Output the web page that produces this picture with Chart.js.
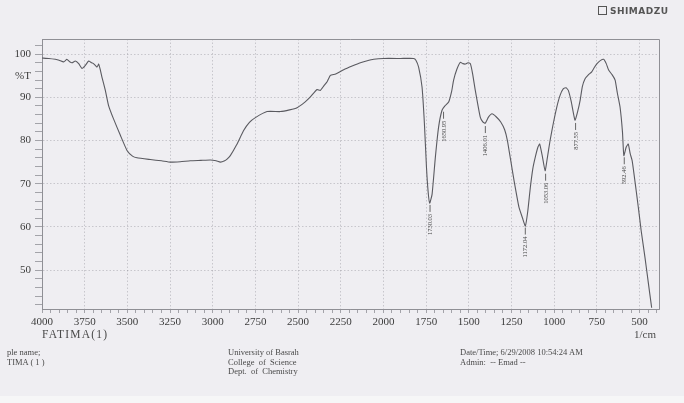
<!DOCTYPE html>
<html>
<head>
<meta charset="utf-8">
<script src="https://cdn.jsdelivr.net/npm/chart.js@4.4.1/dist/chart.umd.min.js"></script>
<style>
  body { margin: 0; background: #efeef2; }
  #wrap { position: relative; width: 684px; height: 403px; overflow: hidden; }
  #chart { position: absolute; left: 0; top: 0; }
  .txt { position: absolute; font-family: "Liberation Serif", "DejaVu Serif", serif; color: #4a4a4a; white-space: nowrap; }
  .small { font-size: 8.5px; line-height: 9.5px; }
  .strip { position: absolute; left: 0; top: 396px; width: 684px; height: 7px; background: #f6f6f7; }
</style>
</head>
<body>
<div id="wrap">
  <canvas id="chart" width="684" height="403"></canvas>
  <div class="strip"></div>
  <div class="txt" style="left:598px; top:6px; font-family:'DejaVu Sans',sans-serif; font-weight:bold; font-size:9px; letter-spacing:0.5px; color:#555;">
    <span style="display:inline-block; width:7px; height:7px; border:1px solid #555; margin-right:3px; vertical-align:-1px;"></span>SHIMADZU
  </div>
  <div class="txt" style="left:42px; top:328px; font-size:11.5px; letter-spacing:1.2px;">FATIMA(1)</div>
  <div class="txt" style="left:634px; top:328px; font-size:11px;">1/cm</div>
  <div class="txt small" style="left:7px; top:348px;">ple name;<br>TIMA ( 1 )</div>
  <div class="txt small" style="left:228px; top:348px;">University of Basrah<br>College&nbsp; of&nbsp; Science<br>Dept.&nbsp; of&nbsp; Chemistry</div>
  <div class="txt small" style="left:460px; top:348px;">Date/Time; 6/29/2008 10:54:24 AM<br>Admin:&nbsp; -- Emad --</div>
</div>
<script>
// IR spectrum (wavenumber in 1/cm, transmittance in %T)
const wavenumbers = [4000, 3960, 3922, 3900, 3873, 3854, 3840, 3824, 3805, 3785, 3766, 3746, 3727, 3710,
  3698, 3678, 3668, 3658, 3649, 3629, 3610, 3581, 3541, 3502, 3470, 3444, 3366, 3300, 3248, 3190, 3131,
  3070, 3014, 2980, 2955, 2930, 2916, 2897, 2860, 2819, 2785, 2750, 2682, 2604, 2550, 2506, 2460, 2428,
  2389, 2370, 2350, 2330, 2311, 2280, 2233, 2180, 2135, 2100, 2057, 2000, 1899, 1823, 1810, 1794, 1774,
  1760, 1748, 1738, 1729, 1715, 1696, 1677, 1657, 1640, 1618, 1600, 1589, 1570, 1550, 1535, 1521, 1505,
  1491, 1478, 1462, 1433, 1418, 1404, 1385, 1364, 1340, 1313, 1290, 1274, 1255, 1235, 1206, 1185, 1169,
  1155, 1140, 1125, 1111, 1095, 1085, 1070, 1053, 1040, 1024, 1005, 985, 965, 946, 930, 917, 900, 878,
  862, 848, 835, 819, 800, 780, 765, 749, 730, 710, 695, 681, 660, 643, 630, 614, 600, 592, 578, 566,
  555, 543, 520, 507, 490, 468, 450, 429];
const transmittance = [99.1, 99.0, 98.8, 98.6, 98.2, 98.8, 98.3, 98.0, 98.4, 97.8, 96.7, 97.4, 98.4, 98.0,
  97.8, 97.0, 97.7, 96.3, 94.7, 91.6, 88.1, 85.0, 81.2, 77.7, 76.4, 76.0, 75.6, 75.3, 75.0, 75.1, 75.3,
  75.4, 75.5, 75.3, 75.0, 75.3, 75.7, 76.5, 79.0, 82.3, 84.2, 85.3, 86.7, 86.7, 87.1, 87.6, 88.9, 90.1,
  91.8, 91.6, 92.6, 93.6, 95.1, 95.4, 96.4, 97.3, 98.0, 98.4, 98.8, 99.0, 99.0, 99.0, 98.6, 97.0, 92.4,
  83.9, 73.8, 68.0, 65.5, 67.6, 76.1, 83.1, 87.0, 88.0, 88.9, 91.5, 94.0, 96.5, 98.1, 97.8, 97.7, 98.0,
  97.8, 95.5, 91.6, 85.4, 84.3, 84.0, 85.4, 86.2, 85.5, 84.3, 82.5, 80.0, 75.5, 70.7, 64.5, 62.0, 60.2,
  63.5, 69.0, 73.5, 76.1, 78.5, 79.2, 76.5, 73.0, 76.0, 80.0, 84.0, 87.7, 90.5, 92.0, 92.2, 91.6, 89.0, 84.7,
  86.8, 89.3, 92.5, 94.3, 95.2, 95.9, 96.9, 97.8, 98.5, 98.8, 97.8, 96.3, 95.2, 94.0, 91.0, 87.7, 82.0, 76.5, 78.5, 79.2,
  77.0, 75.3, 68.5, 64.5, 59.0, 52.9, 47.5, 41.3];

// peaks marked on the printout
const peakLabels = [1730.03, 1650.95, 1406.01, 1172.04, 1053.06, 877.55, 592.46];

// axis ticks
const xMajorTicks = [4000, 3750, 3500, 3250, 3000, 2750, 2500, 2250, 2000, 1750, 1500, 1250, 1000, 750, 500];
const yMajorTicks = [50, 60, 70, 80, 90, 100];

const serif = '"Liberation Serif", "DejaVu Serif", serif';
const gridGray = 'rgba(120,120,130,0.42)';

function valueAt(wn) {
  for (let i = 0; i < wavenumbers.length - 1; i++) {
    const a = wavenumbers[i], b = wavenumbers[i + 1];
    if (wn <= a && wn >= b) {
      const t = (a - wn) / (a - b);
      return transmittance[i] + t * (transmittance[i + 1] - transmittance[i]);
    }
  }
  return transmittance[transmittance.length - 1];
}

// box around the plot + peak annotations
const paperExtras = {
  id: 'paperExtras',
  afterDraw(chart) {
    const { ctx, chartArea: a, scales: { x, y } } = chart;
    ctx.save();
    ctx.strokeStyle = '#8f8f95';
    ctx.lineWidth = 1;
    ctx.beginPath();
    ctx.moveTo(a.left, a.top + 0.5);
    ctx.lineTo(a.right + 0.5, a.top + 0.5);
    ctx.lineTo(a.right + 0.5, a.bottom);
    ctx.stroke();

    ctx.fillStyle = '#444';
    ctx.strokeStyle = '#666';
    ctx.font = '6.5px ' + serif;
    peakLabels.forEach(wn => {
      const px = x.getPixelForValue(wn);
      const py = y.getPixelForValue(valueAt(wn));
      ctx.beginPath();
      ctx.moveTo(px + 0.5, py + 3);
      ctx.lineTo(px + 0.5, py + 10);
      ctx.stroke();
      ctx.save();
      ctx.translate(px + 2.5, py + 12);
      ctx.rotate(-Math.PI / 2);
      ctx.textAlign = 'right';
      ctx.fillText(wn.toFixed(2), 0, 0);
      ctx.restore();
    });
    ctx.restore();
  }
};

const points = wavenumbers.map((wn, i) => ({ x: wn, y: transmittance[i] }));

new Chart(document.getElementById('chart'), {
  type: 'line',
  data: {
    datasets: [{
      data: points,
      borderColor: '#5a5a60',
      borderWidth: 1.1,
      pointRadius: 0,
      tension: 0.15,
      fill: false
    }]
  },
  options: {
    responsive: false,
    animation: false,
    layout: { padding: { left: 0, top: 39, right: 25, bottom: 64 } },
    plugins: { legend: { display: false }, tooltip: { enabled: false } },
    scales: {
      x: {
        type: 'linear',
        reverse: true,
        min: 386,
        max: 4000,
        afterBuildTicks: scale => {
          const t = [];
          for (let v = 4000; v >= 400; v -= 50) t.push({ value: v });
          scale.ticks = t;
        },
        afterFit: scale => { scale.height = 30; },
        ticks: {
          autoSkip: false,
          maxRotation: 0,
          padding: 3,
          color: '#3c3c3c',
          font: { family: serif, size: 11 },
          callback: v => xMajorTicks.includes(v) ? String(v) : ''
        },
        grid: {
          color: c => (c.tick && xMajorTicks.includes(c.tick.value) && c.tick.value !== 4000) ? gridGray : 'rgba(0,0,0,0)',
          tickColor: '#8f8f95',
          tickLength: 4,
          tickBorderDash: [],
          lineWidth: 0.8
        },
        border: { color: '#8f8f95', dash: [1.5, 2] }
      },
      y: {
        min: 41,
        max: 103.5,
        afterBuildTicks: scale => {
          const t = [];
          for (let v = 42; v <= 102; v += 2) {
            t.push({ value: v });
            if (v === 94) t.push({ value: 95 });
          }
          scale.ticks = t;
        },
        afterFit: scale => { scale.width = 42; },
        ticks: {
          autoSkip: false,
          padding: 4,
          color: '#3c3c3c',
          font: { family: serif, size: 11 },
          callback: v => v === 95 ? '%T' : (yMajorTicks.includes(v) ? String(v) : '')
        },
        grid: {
          color: c => (c.tick && yMajorTicks.includes(c.tick.value)) ? gridGray : 'rgba(0,0,0,0)',
          tickColor: c => (c.tick && c.tick.value === 95) ? 'rgba(0,0,0,0)' : '#8f8f95',
          tickLength: 7,
          tickBorderDash: [],
          lineWidth: 0.8
        },
        border: { color: '#8f8f95', dash: [1.5, 2] }
      }
    }
  },
  plugins: [paperExtras]
});
</script>
</body>
</html>
